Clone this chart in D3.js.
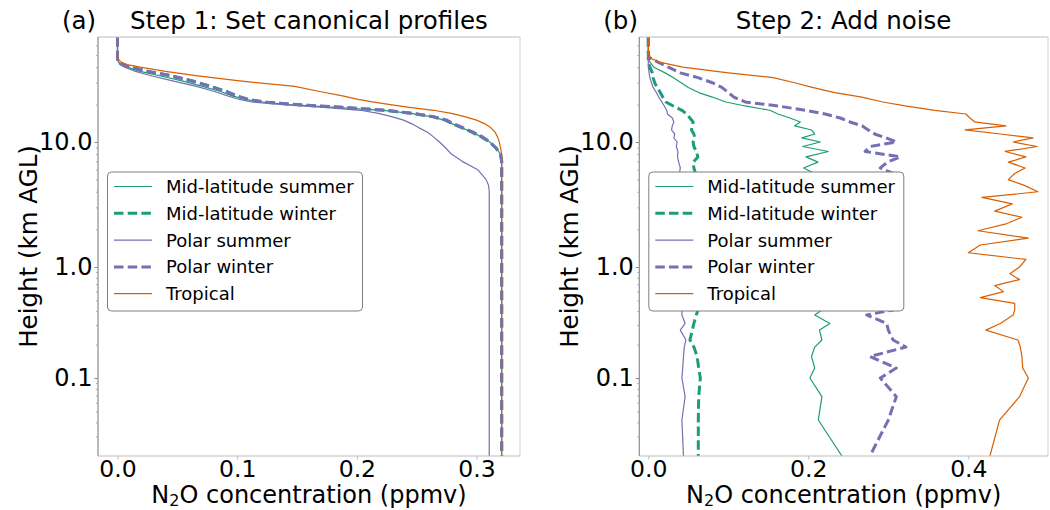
<!DOCTYPE html>
<html>
<head>
<meta charset="utf-8">
<script src="https://cdn.jsdelivr.net/npm/d3@7"></script>
<style>
  html, body { margin: 0; padding: 0; background: #fff; }
  svg { display: block; }
  text { font-family: "DejaVu Sans", sans-serif; fill: #000; }
</style>
</head>
<body>
<svg id="chart" width="1050" height="510"></svg>
<script>
// ---------------- data ----------------
const seriesNames = ["Mid-latitude summer", "Mid-latitude winter", "Polar summer", "Polar winter", "Tropical"];

// Panel (a): canonical profiles, heights in km AGL (top -> bottom)
const heightsA = [70,55,50,46,44,42,40,37,34,31,28,25.5,23.5,22,21,20,19,18,17,16,15,14,13,12,11,10,9,8,7,6,5,4.5,4,3.5,3,2,1,0.1,0.02];
const midSummerA = [0,0,0,0,0.001,0.003,0.008,0.019,0.036,0.054,0.071,0.086,0.096,0.107,0.118,0.144,0.182,0.222,0.245,0.262,0.273,0.28,0.288,0.296,0.304,0.311,0.316,0.32,0.321,0.321,0.321,0.321,0.321,0.321,0.321,0.321,0.321,0.321,0.321];
const midWinterA = [0,0,0,0,0.001,0.004,0.01,0.025,0.045,0.062,0.078,0.091,0.099,0.109,0.121,0.148,0.186,0.223,0.246,0.263,0.274,0.28,0.288,0.296,0.304,0.311,0.316,0.32,0.321,0.321,0.321,0.321,0.321,0.321,0.321,0.321,0.321,0.321,0.321];
const polarSummerA = [0,0,0,0,0.001,0.002,0.006,0.015,0.029,0.046,0.066,0.081,0.092,0.102,0.112,0.138,0.173,0.203,0.218,0.229,0.239,0.246,0.252,0.259,0.264,0.269,0.274,0.279,0.288,0.301,0.308,0.31,0.3106,0.3106,0.3106,0.3106,0.3106,0.3106,0.3106];
const polarWinterA = [0,0,0,0,0.001,0.004,0.011,0.026,0.046,0.063,0.078,0.091,0.1,0.11,0.122,0.15,0.188,0.224,0.247,0.264,0.275,0.281,0.289,0.297,0.305,0.311,0.316,0.32,0.321,0.321,0.321,0.321,0.321,0.321,0.321,0.321,0.321,0.321,0.321];
const tropicalA = [0,0,0,0.001,0.003,0.008,0.019,0.04,0.067,0.102,0.148,0.169,0.188,0.201,0.213,0.228,0.244,0.264,0.279,0.29,0.30,0.307,0.312,0.3155,0.3175,0.319,0.32,0.321,0.321,0.321,0.321,0.321,0.321,0.321,0.321,0.321,0.321,0.321,0.321];

// Panel (b): noisy profiles
const heightsB = [70,60,53,48,44,40,36,33,30,27.5,25,23,21,19.5,18,16.8,15.6,14.5,13.5,12.5,11.6,10.8,10,9.2,8.4,7.6,6.9,6.2,5.6,5.0,4.5,4.0,3.6,3.2,2.8,2.5,2.2,1.95,1.7,1.5,1.3,1.15,1.0,0.87,0.77,0.68,0.6,0.53,0.47,0.41,0.37,0.31,0.27,0.22,0.19,0.156,0.123,0.1,0.068,0.042,0.02];
const midSummerB = [0,0,0,0,0.002, 0.007,0.021,0.031,0.041,0.05, 0.063,0.08,0.097,0.121,0.152, 0.162,0.177,0.19,0.183,0.204, 0.208,0.192,0.215,0.193,0.225, 0.197,0.212,0.194,0.208,0.205, 0.218,0.2,0.213,0.222,0.204, 0.215,0.209,0.224,0.206,0.214, 0.2,0.219,0.211,0.223,0.208, 0.216,0.205,0.22,0.212,0.217, 0.208,0.227,0.214,0.217,0.208, 0.204,0.208,0.202,0.217,0.2125,0.242];
const midWinterB = [0,0,0,0,0, 0.002,0.005,0.006,0.008,0.011, 0.015,0.018,0.022,0.031,0.042, 0.048,0.052,0.056,0.055,0.054, 0.057,0.058,0.056,0.057,0.06, 0.062,0.056,0.057,0.059,0.058, 0.061,0.057,0.06,0.062,0.058, 0.056,0.06,0.059,0.063,0.058, 0.061,0.057,0.06,0.062,0.059, 0.057,0.061,0.059,0.063,0.062, 0.06,0.057,0.055,0.052,0.057, 0.061,0.063,0.065,0.063,0.0625,0.0625];
const polarSummerB = [0,0,0,0,0, 0,0.001,0.002,0.004,0.006, 0.01,0.013,0.017,0.02,0.023, 0.024,0.03,0.032,0.03,0.029, 0.033,0.032,0.036,0.035,0.037, 0.0365,0.038,0.04,0.039,0.041, 0.04,0.042,0.039,0.041,0.043, 0.04,0.042,0.044,0.041,0.043, 0.04,0.042,0.045,0.041,0.043, 0.044,0.041,0.043,0.04,0.042, 0.042,0.046,0.04,0.047,0.045, 0.044,0.043,0.042,0.046,0.042,0.044];
const polarWinterB = [0,0,0,0.001,0.012, 0.025,0.04,0.062,0.08,0.092, 0.1,0.107,0.121,0.162,0.196, 0.221,0.24,0.252,0.267,0.275, 0.283,0.297,0.31,0.277,0.271, 0.315,0.299,0.29,0.306,0.295, 0.308,0.292,0.303,0.298,0.31, 0.294,0.305,0.3,0.311,0.296, 0.302,0.309,0.297,0.304,0.293, 0.306,0.299,0.31,0.295,0.306, 0.273,0.298,0.30,0.306,0.322, 0.277,0.31,0.29,0.31,0.30,0.277];
const tropicalB = [0,0,0,0,0.014, 0.043,0.10,0.156,0.183,0.205, 0.233,0.267,0.293,0.321,0.358, 0.397,0.402,0.408,0.447,0.396, 0.44,0.481,0.456,0.486,0.446, 0.472,0.45,0.471,0.458,0.45, 0.47,0.487,0.417,0.455,0.433, 0.467,0.446,0.412,0.475,0.415, 0.40,0.472,0.464,0.452,0.464, 0.433,0.444,0.415,0.458,0.458, 0.456,0.44,0.422,0.462,0.465, 0.467,0.468,0.475,0.464,0.439,0.427];

const xTicksA = [0, 0.1, 0.2, 0.3];
const xTickLabelsA = ["0.0", "0.1", "0.2", "0.3"];
const xTicksB = [0, 0.2, 0.4];
const xTickLabelsB = ["0.0", "0.2", "0.4"];
const yTicks = [0.1, 1, 10];
const yTickLabels = ["0.1", "1.0", "10.0"];
const yMinorTicks = [0.03,0.04,0.05,0.06,0.07,0.08,0.09, 0.2,0.3,0.4,0.5,0.6,0.7,0.8,0.9, 2,3,4,5,6,7,8,9, 20,30,40,50,60];

// ---------------- style ----------------
const GREEN = "#1b9e77", PURPLE = "#7570b3", ORANGE = "#d95f02";
const styles = [
  {color: GREEN, width: 1.2, dash: null},
  {color: GREEN, width: 3, dash: "9.5,4.2"},
  {color: PURPLE, width: 1.2, dash: null},
  {color: PURPLE, width: 3, dash: "9.5,4.2"},
  {color: ORANGE, width: 1.2, dash: null}
];

const svg = d3.select("#chart");
const FS = 24;

function panel(opts) {
  const {left, right, top, bottom, xDomain, heights, series, xTicks, xLabels, letter, title} = opts;
  const x = d3.scaleLinear().domain(xDomain).range([left, right]);
  const y = d3.scaleLog().domain([0.02, 0.1, 1, 10, 70]).range([bottom, 378, 267, 142, top]);
  const g = svg.append("g");
  const clipId = "clip-" + letter;
  svg.append("clipPath").attr("id", clipId).append("rect")
    .attr("x", left).attr("y", top).attr("width", right - left).attr("height", bottom - top);

  // lines
  const line = d3.line().x(d => x(d[1])).y(d => y(d[0]));
  const lg = g.append("g").attr("clip-path", `url(#${clipId})`);
  series.forEach((vals, i) => {
    const data = heights.map((h, k) => [h, vals[k]]);
    const st = styles[i];
    lg.append("path").datum(data).attr("d", line)
      .attr("fill", "none").attr("stroke", st.color).attr("stroke-width", st.width)
      .attr("stroke-dasharray", st.dash).attr("stroke-linejoin", "round");
  });

  // spines
  g.append("line").attr("x1", left).attr("x2", right).attr("y1", top).attr("y2", top).attr("stroke", "#bdbdbd").attr("stroke-width", 1.2);
  g.append("line").attr("x1", right).attr("x2", right).attr("y1", top).attr("y2", bottom).attr("stroke", "#d6d6d6").attr("stroke-width", 1.2);
  g.append("line").attr("x1", left).attr("x2", left).attr("y1", top).attr("y2", bottom).attr("stroke", "#8c8c8c").attr("stroke-width", 1.2);
  g.append("line").attr("x1", left).attr("x2", right).attr("y1", bottom).attr("y2", bottom).attr("stroke", "#bdbdbd").attr("stroke-width", 1.2);

  // y axis
  const yAxis = d3.axisLeft(y).tickValues(yTicks).tickFormat((d, i) => yTickLabels[i]).tickSize(3.5).tickPadding(2);
  const ya = g.append("g").attr("transform", `translate(${left},0)`).call(yAxis);
  ya.select(".domain").remove();
  ya.selectAll("line").attr("stroke", "#8c8c8c");
  ya.selectAll("text").attr("font-size", FS).attr("font-family", "DejaVu Sans");
  const yMinor = d3.axisLeft(y).tickValues(yMinorTicks).tickFormat("").tickSize(2);
  const ym = g.append("g").attr("transform", `translate(${left},0)`).call(yMinor);
  ym.select(".domain").remove();
  ym.selectAll("line").attr("stroke", "#a8a8a8");

  // x axis
  const xAxis = d3.axisBottom(x).tickValues(xTicks).tickFormat((d, i) => xLabels[i]).tickSize(3.5).tickPadding(4);
  const xa = g.append("g").attr("transform", `translate(0,${bottom})`).call(xAxis);
  xa.select(".domain").remove();
  xa.selectAll("line").attr("stroke", "#bdbdbd");
  xa.selectAll("text").attr("font-size", FS - 0.5).attr("font-family", "DejaVu Sans").attr("dy", "0.59em");

  // labels
  const xl = g.append("text").attr("x", (left + right) / 2).attr("y", 503).attr("text-anchor", "middle").attr("font-size", FS);
  xl.append("tspan").text("N");
  xl.append("tspan").text("2").attr("font-size", 16).attr("dy", 3);
  xl.append("tspan").text("O concentration (ppmv)").attr("dy", -3);

  g.append("text").attr("transform", `translate(${left - 70},${(top + bottom) / 2}) rotate(-90)`)
    .attr("text-anchor", "middle").attr("dominant-baseline", "central").attr("font-size", FS + 0.5)
    .text("Height (km AGL)");

  g.append("text").attr("x", left - 36).attr("y", 29).attr("font-size", FS + 0.5).text(`(${letter})`);
  g.append("text").attr("x", (left + right) / 2).attr("y", 29).attr("text-anchor", "middle").attr("font-size", FS + 0.5).text(title);

  // legend
  const lx = left + 9.5, ly = 172, lw = 255, lh = 139;
  const leg = g.append("g");
  leg.append("rect").attr("x", lx).attr("y", ly).attr("width", lw).attr("height", lh)
    .attr("rx", 4).attr("fill", "#fff").attr("stroke", "#7f7f7f").attr("stroke-width", 1);
  seriesNames.forEach((name, i) => {
    const cy = ly + 14.5 + i * 26.8;
    const st = styles[i];
    leg.append("line").attr("x1", lx + 6.5).attr("x2", lx + 44.5).attr("y1", cy).attr("y2", cy)
      .attr("stroke", st.color).attr("stroke-width", st.width).attr("stroke-dasharray", st.dash);
    leg.append("text").attr("x", lx + 58.5).attr("y", cy).attr("dominant-baseline", "central")
      .attr("font-size", 18).text(name);
  });
}

panel({left: 98, right: 520, top: 37, bottom: 456, xDomain: [-0.0163, 0.3363],
  heights: heightsA, series: [midSummerA, midWinterA, polarSummerA, polarWinterA, tropicalA],
  xTicks: xTicksA, xLabels: xTickLabelsA, letter: "a", title: "Step 1: Set canonical profiles"});
panel({left: 639.3, right: 1048, top: 37, bottom: 456, xDomain: [-0.01125, 0.4996],
  heights: heightsB, series: [midSummerB, midWinterB, polarSummerB, polarWinterB, tropicalB],
  xTicks: xTicksB, xLabels: xTickLabelsB, letter: "b", title: "Step 2: Add noise"});
</script>
</body>
</html>
